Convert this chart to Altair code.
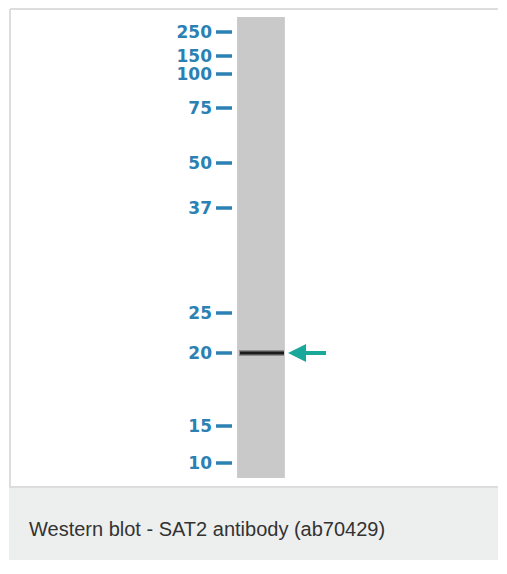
import altair as alt
import pandas as pd

# Molecular-weight marker ladder (kDa) and their migration (px from top of figure)
marker_labels = ["250", "150", "100", "75", "50", "37", "25", "20", "15", "10"]
marker_migration = [24, 48, 66, 100, 155, 200, 305, 345, 418, 455]
# Detected band (SAT2, ~20 kDa)
band_migration = [345]
caption_text = ["Western blot - SAT2 antibody (ab70429)"]

W, H = 491, 552
BOX_BOTTOM = 479
LANE_X0, LANE_X1 = 229, 277
LANE_Y0, LANE_Y1 = 9, 470

xs = alt.Scale(domain=[0, W], nice=False, zero=False)
ys = alt.Scale(domain=[0, H], nice=False, zero=False, reverse=True)


def X(f):
    return alt.X(f, type="quantitative", scale=xs, axis=None)


def Y(f):
    return alt.Y(f, type="quantitative", scale=ys, axis=None)


panel = alt.Chart(pd.DataFrame({"x": [0], "x2": [W], "y": [BOX_BOTTOM], "y2": [H]})).mark_rect(
    color="#edefee"
).encode(x=X("x"), x2="x2", y=Y("y"), y2="y2")

borders = alt.Chart(pd.DataFrame({
    "x": [1, 1, 0], "x2": [1, W, W], "y": [1, 1, BOX_BOTTOM], "y2": [BOX_BOTTOM, 1, BOX_BOTTOM]
})).mark_rule(color="#dddddd", strokeWidth=2).encode(x=X("x"), x2="x2", y=Y("y"), y2="y2")

lane = alt.Chart(pd.DataFrame({"x": [LANE_X0], "x2": [LANE_X1], "y": [LANE_Y0], "y2": [LANE_Y1]})).mark_rect(
    color="#c9c9c9"
).encode(x=X("x"), x2="x2", y=Y("y"), y2="y2")

mk = pd.DataFrame({"label": marker_labels, "y": marker_migration})
labels = alt.Chart(mk).mark_text(
    align="right", baseline="middle", font="DejaVu Sans", fontSize=17, fontWeight=600,
    color="#2b80b4", dy=1
).encode(x=alt.value(203), y=Y("y"), text="label:N")

dashes = alt.Chart(mk).mark_rule(color="#2b80b4", strokeWidth=3.5).encode(
    x=alt.value(207), x2=alt.value(223), y=Y("y")
)

bd = pd.DataFrame({"y": band_migration})
band_glow = alt.Chart(bd).mark_rule(color="#444444", strokeWidth=6, opacity=0.45).encode(
    x=alt.value(LANE_X0 + 1), x2=alt.value(LANE_X1 - 2), y=Y("y")
)
band = alt.Chart(bd).mark_rule(color="#1a1a1a", strokeWidth=3).encode(
    x=alt.value(LANE_X0 + 2), x2=alt.value(LANE_X1 - 2), y=Y("y")
)

arrow_path = "M-1,0L-0.05,-0.47L-0.05,-0.1L1,-0.1L1,0.1L-0.05,0.1L-0.05,0.47Z"
arrow = alt.Chart(bd).mark_point(
    shape=arrow_path, filled=True, color="#19a899", opacity=1, size=1444, strokeWidth=0
).encode(x=alt.value(298), y=Y("y"))

caption = alt.Chart(pd.DataFrame({"t": caption_text})).mark_text(
    align="left", baseline="middle", font="Liberation Sans", fontSize=20, color="#333333"
).encode(x=alt.value(20), y=alt.value(522), text="t:N")

chart = alt.layer(panel, borders, lane, labels, dashes, band_glow, band, arrow, caption).properties(
    width=W, height=H, padding=0,
    autosize=alt.AutoSizeParams(type="fit", contains="padding"),
    background="white"
).configure_view(stroke=None)

chart.save("out.html", embed_options={"renderer": "svg", "actions": False})
